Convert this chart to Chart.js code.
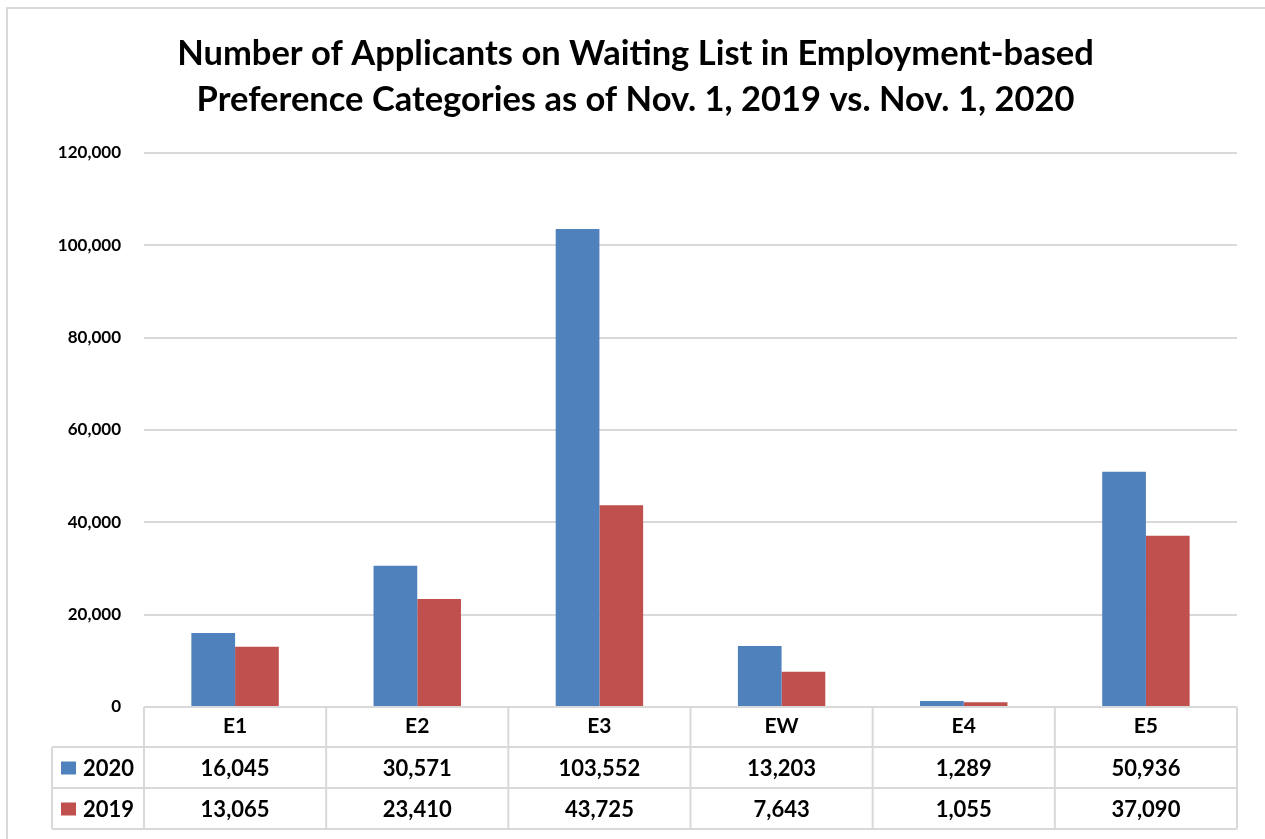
<!DOCTYPE html>
<html>
<head>
<meta charset="utf-8">
<script src="https://cdn.jsdelivr.net/npm/chart.js@4.4.1/dist/chart.umd.min.js"></script>
<style>
  html, body { margin: 0; padding: 0; background: #fff; }
  #wrap { width: 1265px; height: 839px; position: relative; overflow: hidden; }
</style>
</head>
<body>
<div id="wrap"><canvas id="chart" width="1265" height="839"></canvas></div>
<script>
// data
const categories = ['E1', 'E2', 'E3', 'EW', 'E4', 'E5'];
const values2020 = [16045, 30571, 103552, 13203, 1289, 50936];
const values2019 = [13065, 23410, 43725, 7643, 1055, 37090];
const seriesLabels = ['2020', '2019'];
const seriesColors = ['#4f81bd', '#c0504d'];
const titleLines = [
  'Number of Applicants on Waiting List in Employment-based',
  'Preference Categories as of Nov. 1, 2019 vs. Nov. 1, 2020'
];

const FONT = 'Lato, "Open Sans", sans-serif';
const LINE = '#d9d9d9';
const fmt = v => v.toLocaleString('en-US');

// Excel style data table under the plot + outer frame
const dataTablePlugin = {
  id: 'dataTable',
  beforeDraw(chart) {
    const ctx = chart.ctx;
    ctx.save();
    ctx.strokeStyle = LINE;
    ctx.lineWidth = 2;
    ctx.beginPath();
    ctx.moveTo(7, 839);
    ctx.lineTo(7, 8);
    ctx.lineTo(1265, 8);
    ctx.stroke();
    ctx.restore();
  },
  afterDraw(chart) {
    const { ctx, chartArea } = chart;
    const left = chartArea.left, right = chartArea.right;
    const top = chartArea.bottom;
    const rows = [top, top + 40, top + 81, top + 122];
    const keyLeft = 52;
    const colW = (right - left) / categories.length;

    ctx.save();
    ctx.strokeStyle = LINE;
    ctx.lineWidth = 2;
    ctx.beginPath();
    // horizontal lines
    ctx.moveTo(left, rows[0]); ctx.lineTo(right, rows[0]);
    for (let r = 1; r < rows.length; r++) {
      ctx.moveTo(keyLeft, rows[r]); ctx.lineTo(right, rows[r]);
    }
    // vertical lines
    ctx.moveTo(keyLeft, rows[1]); ctx.lineTo(keyLeft, rows[3]);
    for (let i = 0; i <= categories.length; i++) {
      const x = left + i * colW;
      ctx.moveTo(x, rows[0]); ctx.lineTo(x, rows[3]);
    }
    ctx.stroke();

    const series = [values2020, values2019];
    ctx.font = 'bold 22px ' + FONT;
    ctx.textBaseline = 'middle';
    ctx.fillStyle = '#000';
    series.forEach((vals, s) => {
      const cy = (rows[s + 1] + rows[s + 2]) / 2 + 1;
      // legend key
      ctx.fillStyle = seriesColors[s];
      ctx.fillRect(61, cy - 7, 15, 13);
      ctx.fillStyle = '#000';
      ctx.textAlign = 'left';
      ctx.fillText(seriesLabels[s], 83, cy);
      ctx.textAlign = 'center';
      vals.forEach((v, i) => {
        ctx.fillText(fmt(v), left + (i + 0.5) * colW, cy);
      });
    });
    ctx.restore();
  }
};

new Chart(document.getElementById('chart'), {
  type: 'bar',
  data: {
    labels: categories,
    datasets: [
      { label: seriesLabels[0], data: values2020, backgroundColor: seriesColors[0] },
      { label: seriesLabels[1], data: values2019, backgroundColor: seriesColors[1] }
    ]
  },
  options: {
    responsive: false,
    animation: false,
    categoryPercentage: 0.48,
    barPercentage: 1.0,
    layout: { padding: { left: 34, right: 28, top: 0, bottom: 10 } },
    plugins: {
      legend: { display: false },
      tooltip: { enabled: false },
      title: {
        display: true,
        text: titleLines,
        color: '#000',
        font: { family: FONT, size: 34.5, weight: 'bold', lineHeight: 46 / 34.5 },
        padding: { top: 31, bottom: 30 }
      }
    },
    scales: {
      x: {
        grid: { display: false, drawTicks: false },
        border: { display: false },
        ticks: { color: '#000', padding: 7, font: { family: FONT, size: 21, weight: 'bold' } },
        afterFit(scale) { scale.height = 122; }
      },
      y: {
        min: 0,
        max: 120000,
        grid: { color: LINE, lineWidth: 2, drawTicks: false },
        border: { display: false },
        ticks: {
          stepSize: 20000,
          color: '#000',
          padding: 23,
          font: { family: FONT, size: 17, weight: 'bold' },
          callback: v => fmt(v)
        },
        afterFit(scale) { scale.width = 110; }
      }
    }
  },
  plugins: [dataTablePlugin]
});
</script>
</body>
</html>
